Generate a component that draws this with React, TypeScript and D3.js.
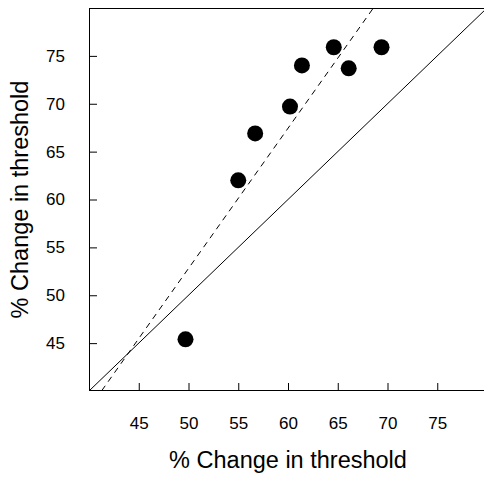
import { useEffect, useRef } from 'react';
import * as d3 from 'd3';

// observed points (x: % change in threshold, y: % change in threshold)
const xValues = [49.7, 55.0, 56.7, 60.2, 61.4, 64.6, 66.1, 69.4];
const yValues = [45.4, 62.0, 66.9, 69.7, 74.0, 75.9, 73.7, 75.9];
const xTicks = [45, 50, 55, 60, 65, 70, 75];
const yTicks = [45, 50, 55, 60, 65, 70, 75];
const axisDomain = [40, 80];
// fitted line y = a + b x (dashed)
const fitCoef = [-20.4, 1.464];

const W = 484;
const H = 479;
const margin = { top: 8, right: -3, bottom: 88, left: 89 };
const font = 'Liberation Sans, Arial, sans-serif';

export default function App() {
  const ref = useRef<SVGSVGElement>(null);

  useEffect(() => {
    const svg = d3.select(ref.current);
    svg.selectAll('*').remove();

    const x = d3.scaleLinear().domain(axisDomain).range([margin.left, W - margin.right]);
    const y = d3.scaleLinear().domain(axisDomain).range([H - margin.bottom, margin.top]);

    svg.append('defs').append('clipPath').attr('id', 'plotclip')
      .append('rect')
      .attr('x', x(axisDomain[0])).attr('y', y(axisDomain[1]))
      .attr('width', x(axisDomain[1]) - x(axisDomain[0]))
      .attr('height', y(axisDomain[0]) - y(axisDomain[1]));

    const plot = svg.append('g').attr('clip-path', 'url(#plotclip)');

    // linea identidad
    plot.append('line')
      .attr('x1', x(axisDomain[0])).attr('y1', y(axisDomain[0]))
      .attr('x2', x(axisDomain[1])).attr('y2', y(axisDomain[1]))
      .attr('stroke', '#000').attr('stroke-width', 1);

    // linea ajustada
    const [a, b] = fitCoef;
    plot.append('line')
      .attr('x1', x(axisDomain[0])).attr('y1', y(a + b * axisDomain[0]))
      .attr('x2', x(axisDomain[1])).attr('y2', y(a + b * axisDomain[1]))
      .attr('stroke', '#000').attr('stroke-width', 1)
      .attr('stroke-dasharray', '6,5');

    // puntos
    plot.selectAll('circle')
      .data(xValues.map((v, i) => [v, yValues[i]]))
      .join('circle')
      .attr('cx', d => x(d[0]))
      .attr('cy', d => y(d[1]))
      .attr('r', 8)
      .attr('fill', '#000');

    // caja
    svg.append('rect')
      .attr('x', x(axisDomain[0]) + 0.5).attr('y', y(axisDomain[1]) + 0.5)
      .attr('width', x(axisDomain[1]) - x(axisDomain[0]))
      .attr('height', y(axisDomain[0]) - y(axisDomain[1]) - 1)
      .attr('fill', 'none').attr('stroke', '#000').attr('stroke-width', 1);

    // Eje X (ticks hacia dentro)
    svg.append('g')
      .attr('transform', `translate(0,${y(axisDomain[0])})`)
      .call(d3.axisBottom(x).tickValues(xTicks).tickSize(-8).tickPadding(26).tickFormat(d3.format('d')))
      .call(g => g.select('.domain').remove())
      .call(g => g.selectAll('.tick line').attr('stroke', '#000'))
      .selectAll('text')
      .attr('font-family', font).attr('font-size', 17).attr('fill', '#000');

    // Eje Y
    svg.append('g')
      .attr('transform', `translate(${x(axisDomain[0])},0)`)
      .call(d3.axisLeft(y).tickValues(yTicks).tickSize(-8).tickPadding(24).tickFormat(d3.format('d')))
      .call(g => g.select('.domain').remove())
      .call(g => g.selectAll('.tick line').attr('stroke', '#000'))
      .selectAll('text')
      .attr('font-family', font).attr('font-size', 17).attr('fill', '#000');

    // titulos
    svg.append('text')
      .attr('x', (x(axisDomain[0]) + x(axisDomain[1])) / 2)
      .attr('y', 468)
      .attr('text-anchor', 'middle')
      .attr('font-family', font).attr('font-size', 23.5).attr('fill', '#000')
      .text('% Change in threshold');

    svg.append('text')
      .attr('transform', `translate(28,${(y(axisDomain[0]) + y(axisDomain[1])) / 2}) rotate(-90)`)
      .attr('text-anchor', 'middle')
      .attr('font-family', font).attr('font-size', 23.5).attr('fill', '#000')
      .text('% Change in threshold');
  }, []);

  return (
    <svg ref={ref} width={W} height={H}
      style={{ position: 'absolute', left: 0, top: 0, background: '#fff' }} />
  );
}
